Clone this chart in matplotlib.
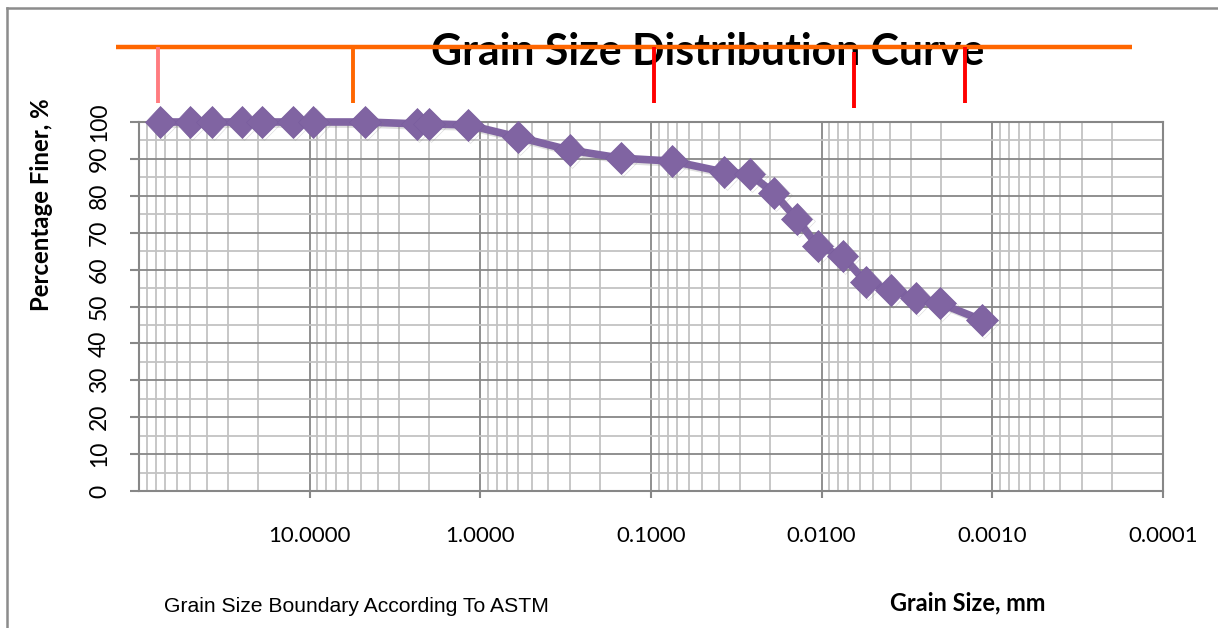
import numpy as np
import matplotlib
matplotlib.use("Agg")
import matplotlib.pyplot as plt
import matplotlib.transforms as mtransforms
import matplotlib.patheffects as pe
from matplotlib.lines import Line2D
from matplotlib.ticker import FixedLocator, NullFormatter

# ---------------- data ----------------
grain_size_mm = [75, 50, 37.5, 25, 19, 12.5, 9.5, 4.75, 2.36, 2.0, 1.18, 0.6, 0.3,
                 0.15, 0.075, 0.0371, 0.0264, 0.0191, 0.0140, 0.01054, 0.00753,
                 0.00552, 0.00394, 0.00281, 0.00203, 0.00115]
percent_finer = [100, 100, 100, 100, 100, 100, 100, 100, 99.5, 99.5, 99.2, 95.9, 92.4,
                 90.2, 89.4, 86.4, 85.9, 80.8, 73.7, 66.4, 63.7,
                 56.6, 54.5, 52.3, 50.9, 46.3]

x_tick_values = [10, 1, 0.1, 0.01, 0.001, 0.0001]
x_tick_labels = ["10.0000", "1.0000", "0.1000", "0.0100", "0.0010", "0.0001"]
y_tick_values = [0, 10, 20, 30, 40, 50, 60, 70, 80, 90, 100]

# ASTM grain size boundary markers (drawn above the plot)
boundary_mm = [77.6, 5.58, 0.0966, 0.00646, 0.00145]
boundary_colors = ["#FF7C80", "#FF6600", "#FF0000", "#FF0000", "#FF0000"]
bracket_mm = [136.5, 1.52e-4]

title = "Grain Size Distribution Curve"
xlabel = "Grain Size, mm"
ylabel = "Percentage Finer, %"
note = "Grain Size Boundary According To ASTM"

# ---------------- figure ----------------
W, H = 1218, 628
fig = plt.figure(figsize=(W / 100, H / 100), dpi=100)
fig.patch.set_facecolor("white")

ax = fig.add_axes([139 / W, (H - 491) / H, 1024 / W, 369 / H])
ax.set_xscale("log")
ax.set_xlim(100, 1e-4)
ax.set_ylim(0, 100)

major_c = "#878787"
minor_c = "#C3C3C3"

# grid
ax.xaxis.set_major_locator(FixedLocator(x_tick_values))
minor_x = [m * 10.0 ** e for e in range(-4, 2) for m in range(2, 10)]
ax.xaxis.set_minor_locator(FixedLocator(minor_x))
ax.xaxis.set_minor_formatter(NullFormatter())
ax.yaxis.set_major_locator(FixedLocator(y_tick_values))
ax.yaxis.set_minor_locator(FixedLocator([v + 5 for v in y_tick_values[:-1]]))

ax.grid(which="minor", color=minor_c, lw=1.3, zorder=0)
ax.grid(which="major", color=major_c, lw=1.3, zorder=0)
ax.set_axisbelow(True)
for s in ax.spines.values():
    s.set_color(major_c)
    s.set_linewidth(1.5)

ax.set_xticklabels(x_tick_labels, fontfamily="Lato", fontsize=16)
ax.set_yticklabels([str(v) for v in y_tick_values], fontfamily="Lato", fontsize=16.5,
                   rotation=90, va="center", ha="center")
ax.tick_params(axis="x", which="major", direction="out", length=5, width=1.5,
               color=major_c, pad=20)
ax.tick_params(axis="y", which="major", direction="out", length=6.5, width=1.5,
               color=major_c, pad=22)
ax.tick_params(which="minor", length=0)

# data curve
ax.plot(grain_size_mm, percent_finer, color="#8064A2", lw=5.5, marker="D",
        markersize=16, markeredgecolor="#7A5E9E", markeredgewidth=0.5,
        zorder=4, clip_on=False,
        path_effects=[pe.SimpleLineShadow(offset=(1.5, -1.5), shadow_color="#808080",
                                          alpha=0.25), pe.Normal()])

# boundary bracket above plot
trans = mtransforms.blended_transform_factory(ax.transData, ax.transAxes)
ax.add_line(Line2D(bracket_mm, [1.2033, 1.2033], transform=trans, color="#FF6600",
                   lw=3.2, clip_on=False, zorder=6, solid_capstyle="butt"))
for i, (b, c) in enumerate(zip(boundary_mm, boundary_colors)):
    y0, y1 = (1.038, 1.1897) if i == 3 else (1.0515, 1.2033)
    ax.add_line(Line2D([b, b], [y0, y1], transform=trans, color=c, lw=2.8,
                       clip_on=False, zorder=6, solid_capstyle="butt"))

# texts
fig.canvas.draw()
renderer = fig.canvas.get_renderer()


def fit(t, target, vertical=False):
    bb = t.get_window_extent(renderer)
    w = bb.height if vertical else bb.width
    t.set_fontsize(t.get_fontsize() * target / w)


t_title = ax.text(708 / W, (H - 52) / H, title, transform=fig.transFigure,
                  ha="center", va="center", fontfamily="Lato", fontweight="bold",
                  fontsize=30, zorder=3, color="black")
fit(t_title, 553)

t_yl = fig.text(42 / W, (H - 205) / H, ylabel, rotation=90, ha="center", va="center",
                fontfamily="Lato", fontweight="bold", fontsize=15)
fit(t_yl, 214, vertical=True)

t_xl = fig.text(968 / W, (H - 603) / H, xlabel, ha="center", va="center",
                fontfamily="Lato", fontweight="bold", fontsize=15)
fit(t_xl, 156)

t_note = fig.text(356 / W, (H - 607) / H, note, ha="center", va="center",
                  fontfamily="Liberation Sans", fontsize=13)
fit(t_note, 383)

# chart frame (top and left border)
fig.add_artist(Line2D([7 / W, 7 / W], [0, (H - 8) / H], transform=fig.transFigure,
                      color="#8C8C8C", lw=1.8))
fig.add_artist(Line2D([7 / W, 1], [(H - 8) / H, (H - 8) / H], transform=fig.transFigure,
                      color="#8C8C8C", lw=1.8))

fig.savefig("out.png", dpi=100, facecolor="white")
